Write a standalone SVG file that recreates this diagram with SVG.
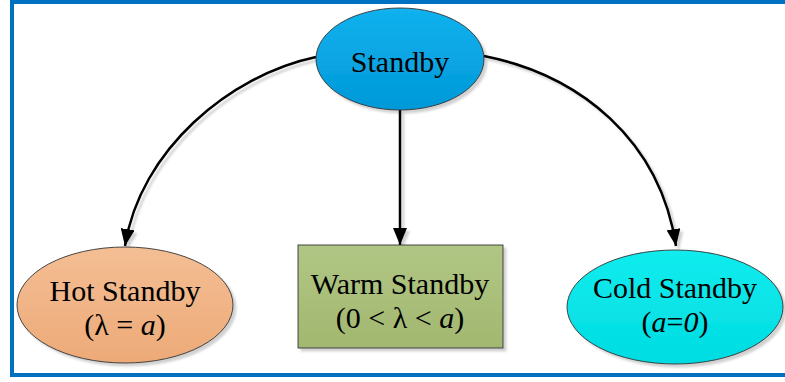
<svg xmlns="http://www.w3.org/2000/svg" width="785" height="382" viewBox="0 0 785 382">
  <defs>
    <linearGradient id="gStandby" x1="0" y1="0" x2="0" y2="1">
      <stop offset="0" stop-color="#12B2EE"/>
      <stop offset="1" stop-color="#0098D8"/>
    </linearGradient>
    <linearGradient id="gHot" x1="0" y1="0" x2="0" y2="1">
      <stop offset="0" stop-color="#F4BE94"/>
      <stop offset="1" stop-color="#EDAA78"/>
    </linearGradient>
    <linearGradient id="gWarm" x1="0" y1="0" x2="0" y2="1">
      <stop offset="0" stop-color="#B0C684"/>
      <stop offset="1" stop-color="#A2B870"/>
    </linearGradient>
    <linearGradient id="gCold" x1="0" y1="0" x2="0" y2="1">
      <stop offset="0" stop-color="#12ECEE"/>
      <stop offset="1" stop-color="#00DCE2"/>
    </linearGradient>
    <!-- soft drop shadow; user-space region so straight lines keep it too -->
    <filter id="shadow" filterUnits="userSpaceOnUse" x="0" y="0" width="785" height="382">
      <feDropShadow dx="3" dy="3" stdDeviation="1.2" flood-color="#000" flood-opacity="0.18"/>
    </filter>
    <marker id="arrow" viewBox="0 0 17 14" refX="17" refY="7" markerWidth="17" markerHeight="14" markerUnits="userSpaceOnUse" orient="auto">
      <path d="M0,0 L17,7 L0,14 Z" fill="#000"/>
    </marker>
  </defs>
  <style>
    .frame { fill: none; stroke: #0070C0; stroke-width: 4; }
    .node { stroke: #333333; stroke-width: 0.9; filter: url(#shadow); }
    .label { font-size: 30px; fill: #000; text-anchor: middle; }
    .link { fill: none; stroke: #000; stroke-width: 2.5; marker-end: url(#arrow); filter: url(#shadow); }
  </style>

  <rect class="frame" x="12" y="2" width="790" height="373"/>

  <g id="connectors">
    <path class="link" d="M316,57 C230,75 140,150 125,246"/>
    <path class="link" d="M400,110 L400,245"/>
    <path class="link" d="M484,56 C580,75 660,140 676,246"/>
  </g>

  <g font-family="'Liberation Serif', 'Times New Roman', Times, serif">
    <g id="standby">
      <ellipse class="node" cx="400" cy="59" rx="84" ry="51" fill="url(#gStandby)"/>
      <text class="label" x="400" y="72">Standby</text>
    </g>

    <g id="hot-standby">
      <ellipse class="node" cx="125" cy="305" rx="108" ry="58" fill="url(#gHot)"/>
      <text class="label" x="125" y="301">Hot Standby</text>
      <text class="label" x="125" y="335">(λ = <tspan font-style="italic">a</tspan>)</text>
    </g>

    <g id="warm-standby">
      <rect class="node" x="298" y="245" width="205" height="103" fill="url(#gWarm)"/>
      <text class="label" x="400" y="294">Warm Standby</text>
      <text class="label" x="400" y="328">(0 &lt; λ &lt; <tspan font-style="italic">a</tspan>)</text>
    </g>

    <g id="cold-standby">
      <ellipse class="node" cx="675" cy="307" rx="108" ry="57" fill="url(#gCold)"/>
      <text class="label" x="675" y="298">Cold Standby</text>
      <text class="label" x="675" y="332">(<tspan font-style="italic">a</tspan>=<tspan font-style="italic">0</tspan>)</text>
    </g>
  </g>
</svg>
